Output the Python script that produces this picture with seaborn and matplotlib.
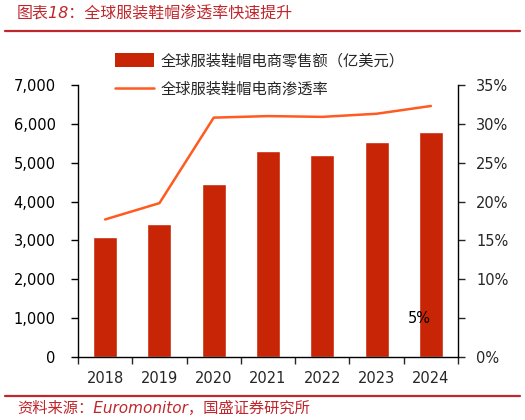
import numpy as np
import pandas as pd
import matplotlib
matplotlib.use('Agg')
import matplotlib.pyplot as plt
import seaborn as sns
from matplotlib.ticker import FuncFormatter, FixedLocator
from matplotlib.patches import Patch
from matplotlib.lines import Line2D

# data
years = ['2018', '2019', '2020', '2021', '2022', '2023', '2024']
sales = [3080, 3430, 4460, 5310, 5210, 5530, 5780]          # 亿美元
rate = [17.7, 19.8, 30.8, 31.0, 30.9, 31.3, 32.3]            # %

bar_label = '全球服装鞋帽电商零售额（亿美元）'
line_label = '全球服装鞋帽电商渗透率'
title = '图表18：全球服装鞋帽渗透率快速提升'
source = '资料来源：Euromonitor，国盛证券研究所'

sns.set_style('white')
plt.rcParams['font.family'] = ['DejaVu Sans', 'Noto Sans CJK SC']

bar_color = '#C82506'
line_color = '#FF5A1F'
red = '#C0272D'

df = pd.DataFrame({'year': years, 'sales': sales, 'rate': rate})

fig = plt.figure(figsize=(5.25, 4.2), dpi=100)
ax = fig.add_axes([78 / 525, 1 - 357 / 420, 380 / 525, 272 / 420])

sns.barplot(data=df, x='year', y='sales', color=bar_color, width=0.44,
            saturation=1, ax=ax)
ax.set_xlim(-0.5, len(years) - 0.5)
ax.set_ylim(0, 7000)
ax.set_yticks(np.arange(0, 7001, 1000))
ax.yaxis.set_major_formatter(FuncFormatter(lambda v, p: f'{int(v):,}'))
ax.set_xlabel('')
ax.set_ylabel('')

ax2 = ax.twinx()
sns.lineplot(x=np.arange(len(years)), y=rate, color=line_color, lw=1.8,
             ax=ax2, legend=False)
ax2.set_ylim(0, 35)
ax2.set_yticks(np.arange(0, 36, 5))
ax2.set_yticklabels(['0%', '', '10%', '15%', '20%', '25%', '30%', '35%'])
ax2.text(5.78, 5, '5%', ha='center', va='center', fontsize=10.5, color='black')

for a in (ax, ax2):
    for s in a.spines.values():
        s.set_color('black')
        s.set_linewidth(1.0)
    a.spines['top'].set_visible(False)
    a.grid(False)

ax.spines['right'].set_visible(False)
ax2.spines['left'].set_visible(False)
ax2.spines['bottom'].set_visible(False)

ax.tick_params(axis='y', which='major', direction='out', length=5, width=1,
               pad=11, labelsize=10.5, left=True, colors='black')
ax.tick_params(axis='x', which='major', length=0, pad=10, labelsize=10.5)
ax.xaxis.set_minor_locator(FixedLocator(np.arange(-0.5, len(years), 1)))
ax.tick_params(axis='x', which='minor', direction='out', length=5, width=1,
               bottom=True)
ax2.tick_params(axis='y', direction='out', length=5, width=1, pad=8,
                labelsize=10.5, right=True)

# legend
handles = [Patch(facecolor=bar_color, edgecolor='none'),
           Line2D([], [], color=line_color, lw=1.8)]
fig.legend(handles, [bar_label, line_label], loc='upper left',
           bbox_to_anchor=(101 / 525, 1 - 39 / 420), frameon=False,
           fontsize=11, handlelength=2.6, handleheight=1.1,
           handletextpad=0.4, labelspacing=0.85)

# title & source
fig.text(17 / 525, 1 - 14 / 420, title, color=red, fontsize=11.5,
         style='italic', va='center', ha='left')
fig.add_artist(Line2D([5 / 525, 520 / 525], [1 - 31 / 420, 1 - 31 / 420],
                      color=red, lw=1.6, transform=fig.transFigure))
fig.add_artist(Line2D([5 / 525, 520 / 525], [1 - 396 / 420, 1 - 396 / 420],
                      color=red, lw=1.6, transform=fig.transFigure))
fig.text(17 / 525, 1 - 408 / 420, source, color=red, fontsize=11,
         style='italic', va='center', ha='left')

fig.savefig('out.png', dpi=100)
